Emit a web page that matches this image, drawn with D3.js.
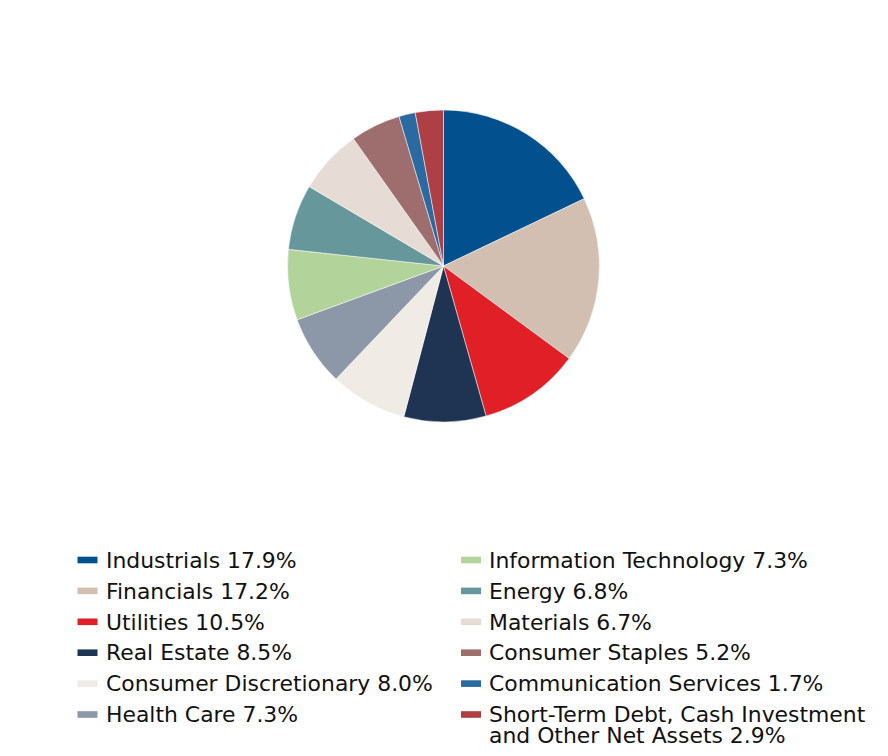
<!DOCTYPE html>
<html><head><meta charset="utf-8">
<script src="https://cdn.jsdelivr.net/npm/d3@7"></script>
<style>html,body{margin:0;padding:0;background:#fff;}</style>
</head><body>
<svg id="chart" width="888" height="756"></svg>
<script>
const categories = ["Industrials","Financials","Utilities","Real Estate","Consumer Discretionary","Health Care","Information Technology","Energy","Materials","Consumer Staples","Communication Services","Short-Term Debt, Cash Investment and Other Net Assets"];
const values = [17.9,17.2,10.5,8.5,8.0,7.3,7.3,6.8,6.7,5.2,1.7,2.9];
const colors = ["#03508f","#d3bfb1","#e11f26","#1f3353","#f0ebe5","#8c98a8","#b2d49b","#66979a","#e6dbd5","#9e6e6e","#2a6aa1","#ad3f45"];

const svg = d3.select("#chart");
const data = categories.map((c,i)=>({name:c,value:values[i],color:colors[i]}));
const pie = d3.pie().value(d=>d.value).sort(null);
const arc = d3.arc().innerRadius(0).outerRadius(156);
const g = svg.append("g").attr("transform","translate(443.5,266)");
g.selectAll("path").data(pie(data)).join("path")
  .attr("d",arc).attr("fill",d=>d.data.color)
  .attr("stroke","#fff").attr("stroke-width",0.5);

const font = "DejaVu Sans, Verdana, sans-serif";
const fs = 21.9;
const lg = svg.append("g");
data.forEach((d,i)=>{
  const col = i<6?0:1, row = i%6;
  const sx = col===0?77.5:461, tx = col===0?106:489;
  const y = 560 + row*30.9;
  lg.append("rect").attr("x",sx).attr("y",y-3.3).attr("width",20).attr("height",6.6).attr("fill",d.color);
  if (d.name.startsWith("Short-Term")) {
    lg.append("text").attr("x",tx).attr("y",y+7.7).attr("font-family",font).attr("font-size",fs).attr("fill","#111")
      .text("Short-Term Debt, Cash Investment");
    lg.append("text").attr("x",tx).attr("y",y+7.7+20.7).attr("font-family",font).attr("font-size",fs).attr("fill","#111")
      .text("and Other Net Assets " + d.value.toFixed(1) + "%");
  } else {
    lg.append("text").attr("x",tx).attr("y",y+7.7).attr("font-family",font).attr("font-size",fs).attr("fill","#111")
      .text(d.name + " " + d.value.toFixed(1) + "%");
  }
});
</script>
</body></html>
